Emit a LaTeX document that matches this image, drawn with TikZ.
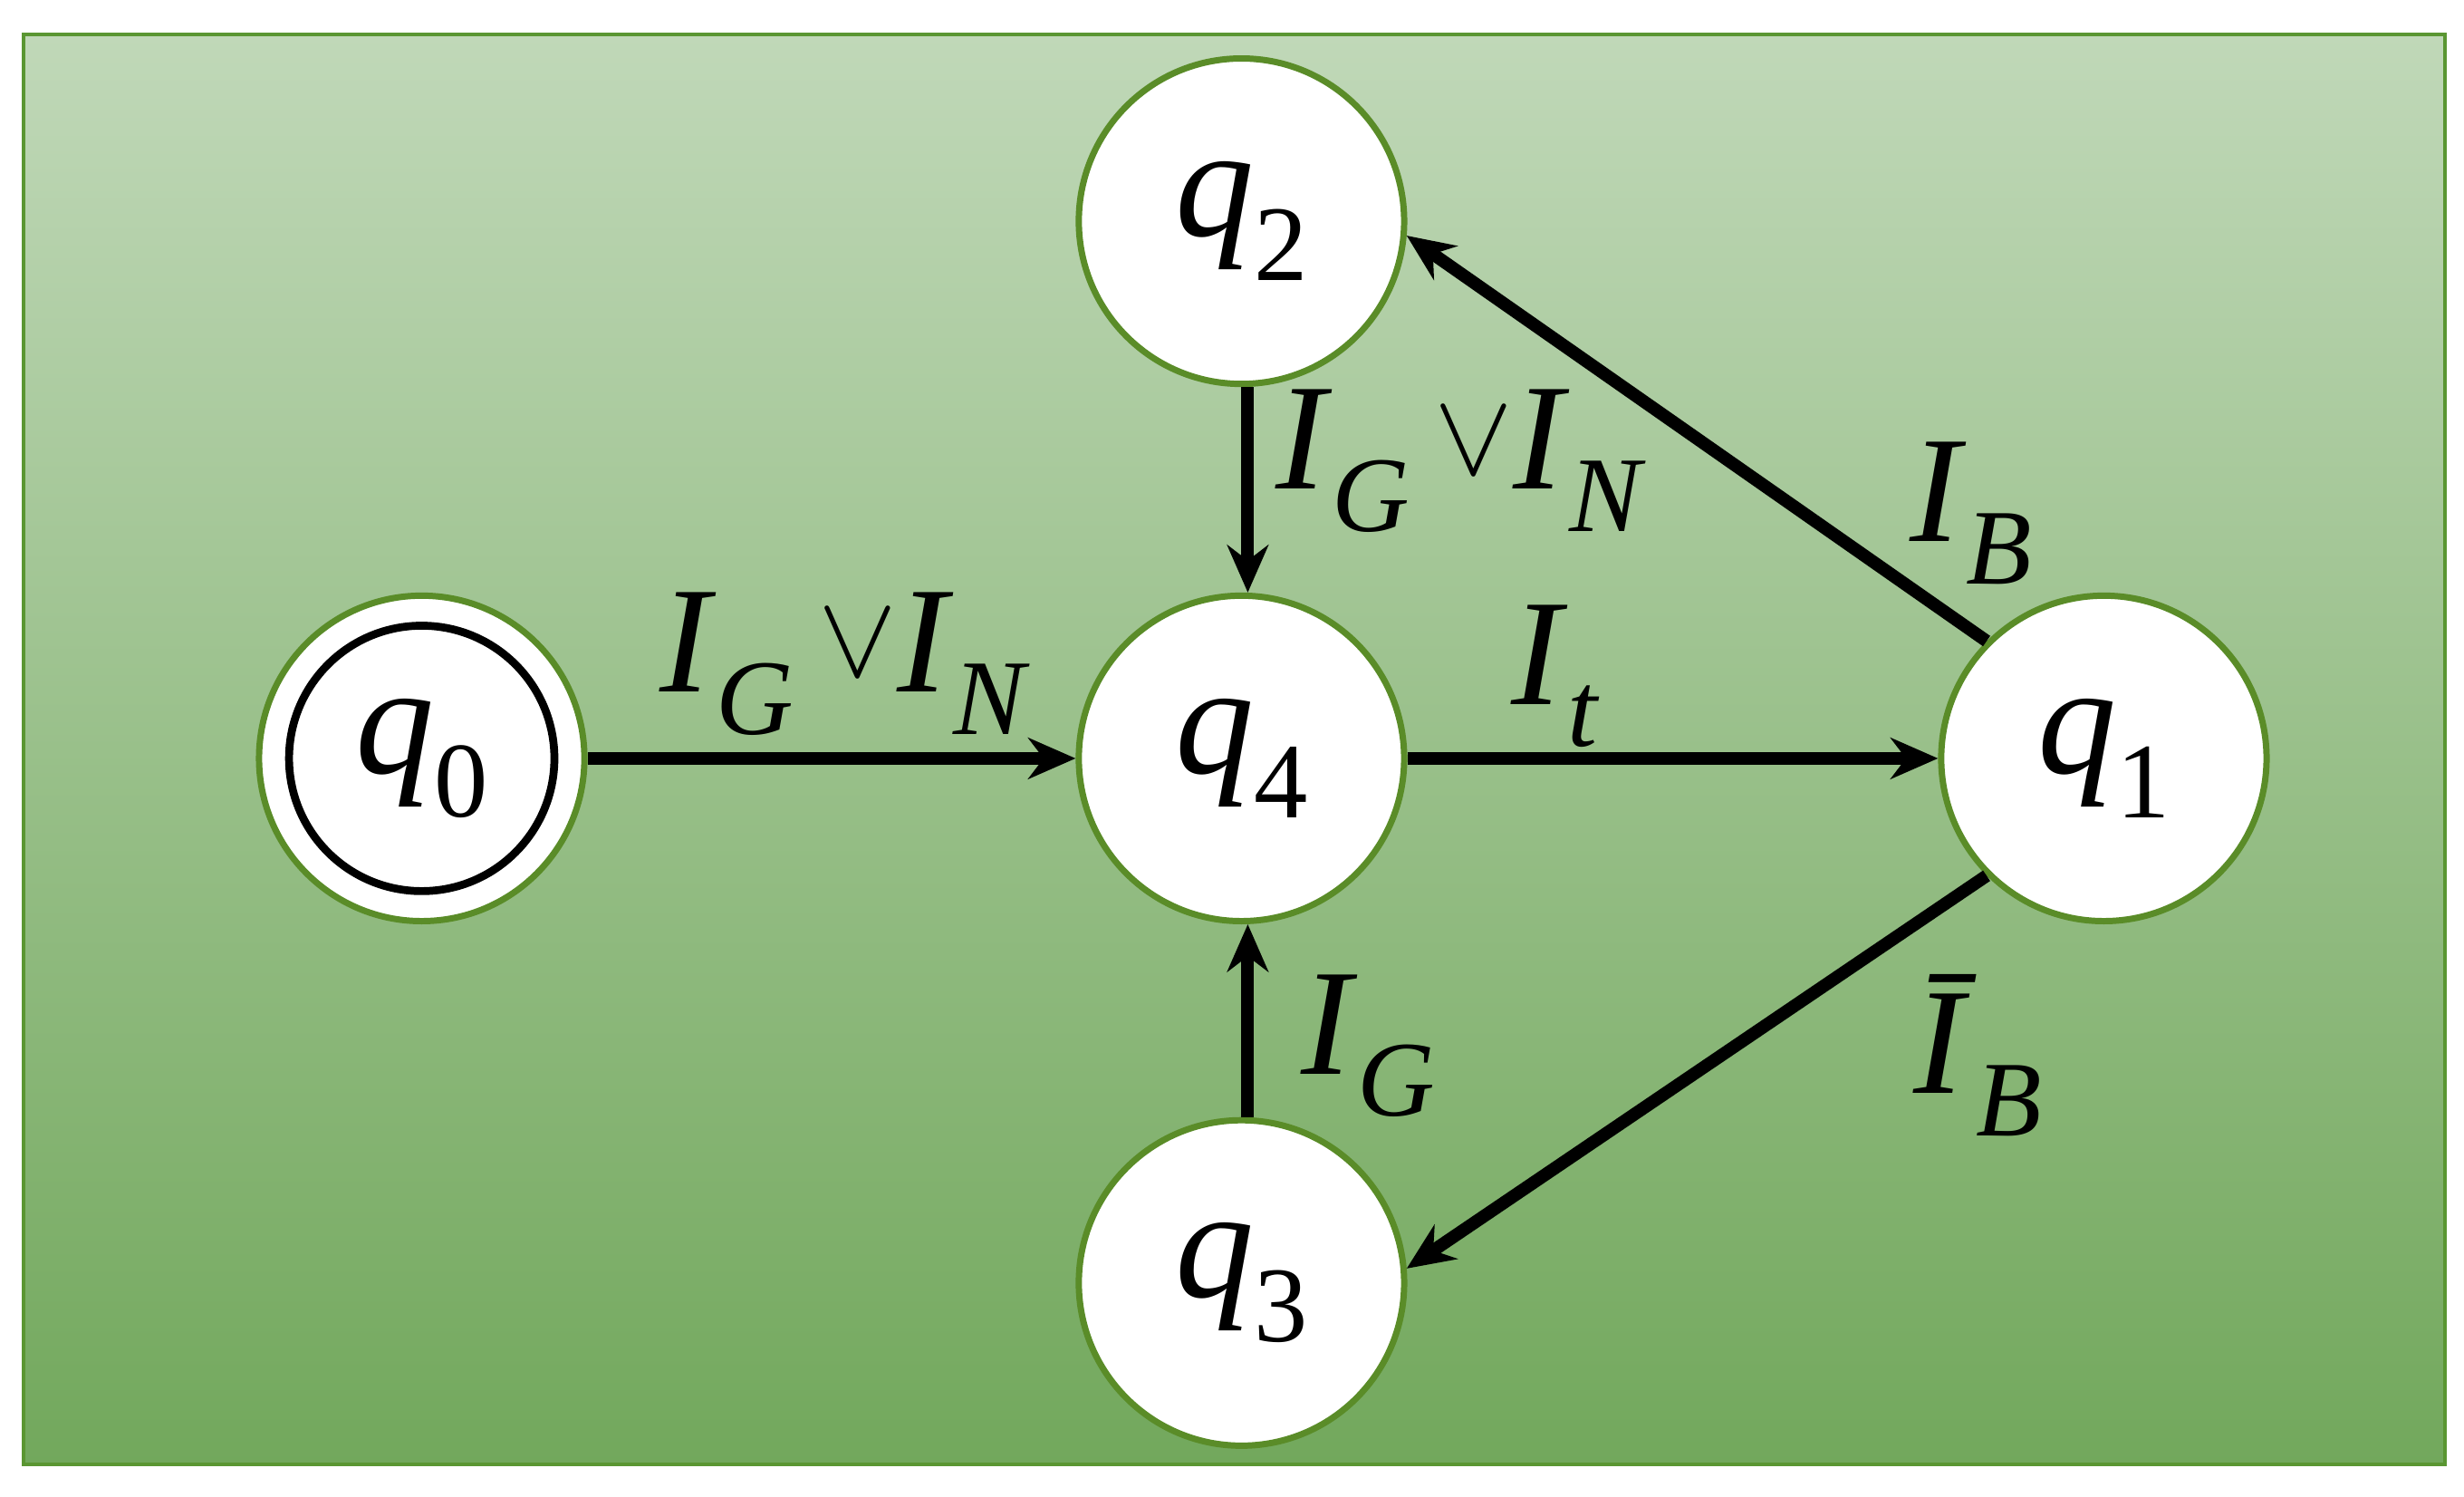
\documentclass[tikz,border=0pt]{standalone}
\usepackage{fontspec}
\setmainfont{Liberation Serif}
\usetikzlibrary{arrows.meta}
\newcommand\lsub[1]{\raisebox{-0.28em}{\fontsize{34}{34}\selectfont #1}}
\newcommand\bigor{\,\raisebox{0.1em}{\scalebox{1.5}{$\vee$}}}
\begin{document}
\begin{tikzpicture}[x=0.5pt,y=-0.5pt,
  st/.style={circle,fill=white,draw={rgb,255:red,90;green,140;blue,40},line width=2pt,minimum size=103pt,inner sep=0pt,font=\fontsize{50}{52}\selectfont},
  ed/.style={line width=4pt,-{Stealth[length=15pt,width=13pt]}},
  lb/.style={font=\fontsize{48}{50}\selectfont}]
\useasboundingbox (0,0) rectangle (1560,947);
\shade[top color={rgb,255:red,192;green,216;blue,184},bottom color={rgb,255:red,114;green,168;blue,92}] (15,22) rectangle (1548,927);
\draw[color={rgb,255:red,90;green,150;blue,50},line width=1.2pt] (15,22) rectangle (1548,927);
\node[st] (q0) at (267,480) {};
\draw[line width=2.5pt] (q0) circle (42pt);
\node[font=\fontsize{50}{52}\selectfont] at (q0) {\textit{q}\lsub{0}};
\node[st] (q4) at (786,480) {\textit{q}\lsub{4}};
\node[st] (q2) at (786,140) {\textit{q}\lsub{2}};
\node[st] (q3) at (786,812) {\textit{q}\lsub{3}};
\node[st] (q1) at (1332,480) {\textit{q}\lsub{1}};
\draw[ed] (q0) -- (q4);
\draw[ed] (q4) -- (q1);
\draw[ed] ([xshift=2pt]q2.south) -- ([xshift=2pt]q4.north);
\draw[ed] ([xshift=2pt]q3.north) -- ([xshift=2pt]q4.south);
\draw[ed] (q1.135) -- (q2.-5);
\draw[ed] (q1.225) -- (q3.5);
\node[lb] at (535,420) {\textit{I}\lsub{\textit{G}}\bigor\textit{I}\lsub{\textit{N}}};
\node[lb] at (925,292) {\textit{I}\lsub{\textit{G}}\bigor\textit{I}\lsub{\textit{N}}};
\node[lb] at (985,428) {\textit{I}\lsub{\textit{t}}};
\node[lb] at (1248,325) {\textit{I}\lsub{\textit{B}}};
\node[lb] at (1252,668) {\textit{Ī}\lsub{\textit{B}}};
\node[lb] at (866,662) {\textit{I}\lsub{\textit{G}}};
\end{tikzpicture}
\end{document}
